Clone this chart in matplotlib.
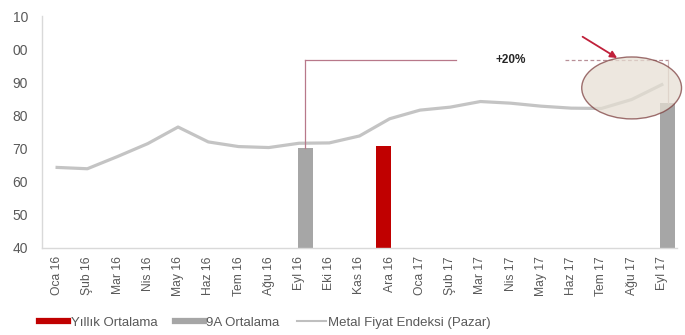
import matplotlib
matplotlib.use("Agg")
import matplotlib.pyplot as plt
from matplotlib.patches import Ellipse
from matplotlib.lines import Line2D
import numpy as np

plt.rcParams['font.family'] = ['Liberation Sans', 'DejaVu Sans']

categories = ["Oca 16", "Şub 16", "Mar 16", "Nis 16", "May 16", "Haz 16", "Tem 16",
              "Ağu 16", "Eyl 16", "Eki 16", "Kas 16", "Ara 16", "Oca 17", "Şub 17",
              "Mar 17", "Nis 17", "May 17", "Haz 17", "Tem 17", "Ağu 17", "Eyl 17"]
metal_index = [64.3, 63.9, 67.6, 71.5, 76.5, 72.0, 70.6, 70.3, 71.6, 71.7, 73.8, 79.0,
               81.6, 82.5, 84.2, 83.7, 82.8, 82.2, 82.1, 84.8, 89.3]
yillik_cat = ["Ara 16"]
yillik_val = [70.9]
ninea_cat = ["Eyl 16", "Eyl 17"]
ninea_val = [70.2, 83.8]
ytick_vals = [40, 50, 60, 70, 80, 90, 100, 110]
ytick_labels = ["40", "50", "60", "70", "80", "90", "00", "10"]
change_label = "+20%"

fig = plt.figure(figsize=(6.85, 3.35), dpi=100)
ax = fig.add_axes([0.0613, 0.26, 0.927, 0.692])

x = np.arange(len(categories))
idx = {c: i for i, c in enumerate(categories)}
off = 0.2
bw = 0.5

ax.plot(x, metal_index, color="#C4C4C4", lw=2.3, zorder=3, solid_joinstyle="round")
ax.bar([idx[c] + off for c in ninea_cat], ninea_val, width=bw, color="#A6A6A6", zorder=2)
ax.bar([idx[c] - off for c in yillik_cat], yillik_val, width=bw, color="#C00000", zorder=2)

ax.set_xlim(-0.5, len(categories) - 0.5)
ax.set_ylim(40, 110)
ax.set_xticks(x)
ax.set_xticklabels(categories, rotation=90, fontsize=8.7, color="#595959")
ax.set_yticks(ytick_vals)
ax.set_yticklabels(ytick_labels, fontsize=10, color="#595959")
ax.tick_params(axis="both", length=0)
ax.tick_params(axis="y", pad=10)
ax.tick_params(axis="x", pad=6)
for s in ["top", "right"]:
    ax.spines[s].set_visible(False)
for s in ["left", "bottom"]:
    ax.spines[s].set_color("#D9D9D9")
    ax.spines[s].set_linewidth(1.0)

# Annotation bracket
x1 = idx[ninea_cat[0]] + off
x2 = idx[ninea_cat[1]] + off
ytop = 96.7
bc = "#B8788A"
ax.plot([x1, x1], [ninea_val[0], ytop], color=bc, lw=0.9, zorder=4)
ax.plot([x1, 13.2], [ytop, ytop], color=bc, lw=0.9, zorder=4)
ax.plot([16.8, x2], [ytop, ytop], color="#B89098", lw=0.9, ls=(0, (3, 2)), zorder=4)
ax.plot([x2, x2], [ytop, ninea_val[1]], color="#D0B8B8", lw=0.9, zorder=4)
ax.text(15.0, ytop, change_label, ha="center", va="center", fontsize=8.5,
        fontweight="bold", color="#262626", zorder=5)

ell = Ellipse((19.0, 88.3), width=3.3, height=18.7, facecolor="#E6DFD3", alpha=0.72,
              edgecolor="#7A3A3A", lw=1.0, zorder=6, clip_on=False)
ax.add_patch(ell)
ax.annotate("", xy=(18.6, 96.9), xytext=(17.3, 104.2),
            arrowprops=dict(arrowstyle="-|>", color="#C0203A", lw=1.3,
                            mutation_scale=10), zorder=7, annotation_clip=False)

handles = [Line2D([], [], color="#C00000", lw=4.5),
           Line2D([], [], color="#A6A6A6", lw=4.5),
           Line2D([], [], color="#BFBFBF", lw=1.5)]
labels = ["Yıllık Ortalama", "9A Ortalama", "Metal Fiyat Endeksi (Pazar)"]
leg = fig.legend(handles, labels, loc="center left", bbox_to_anchor=(0.04, 0.037),
                 ncol=3, frameon=False, fontsize=9.5, handlelength=2.2,
                 handletextpad=0.2, columnspacing=1.3)
for t in leg.get_texts():
    t.set_color("#595959")

fig.savefig("out.png", dpi=100)
